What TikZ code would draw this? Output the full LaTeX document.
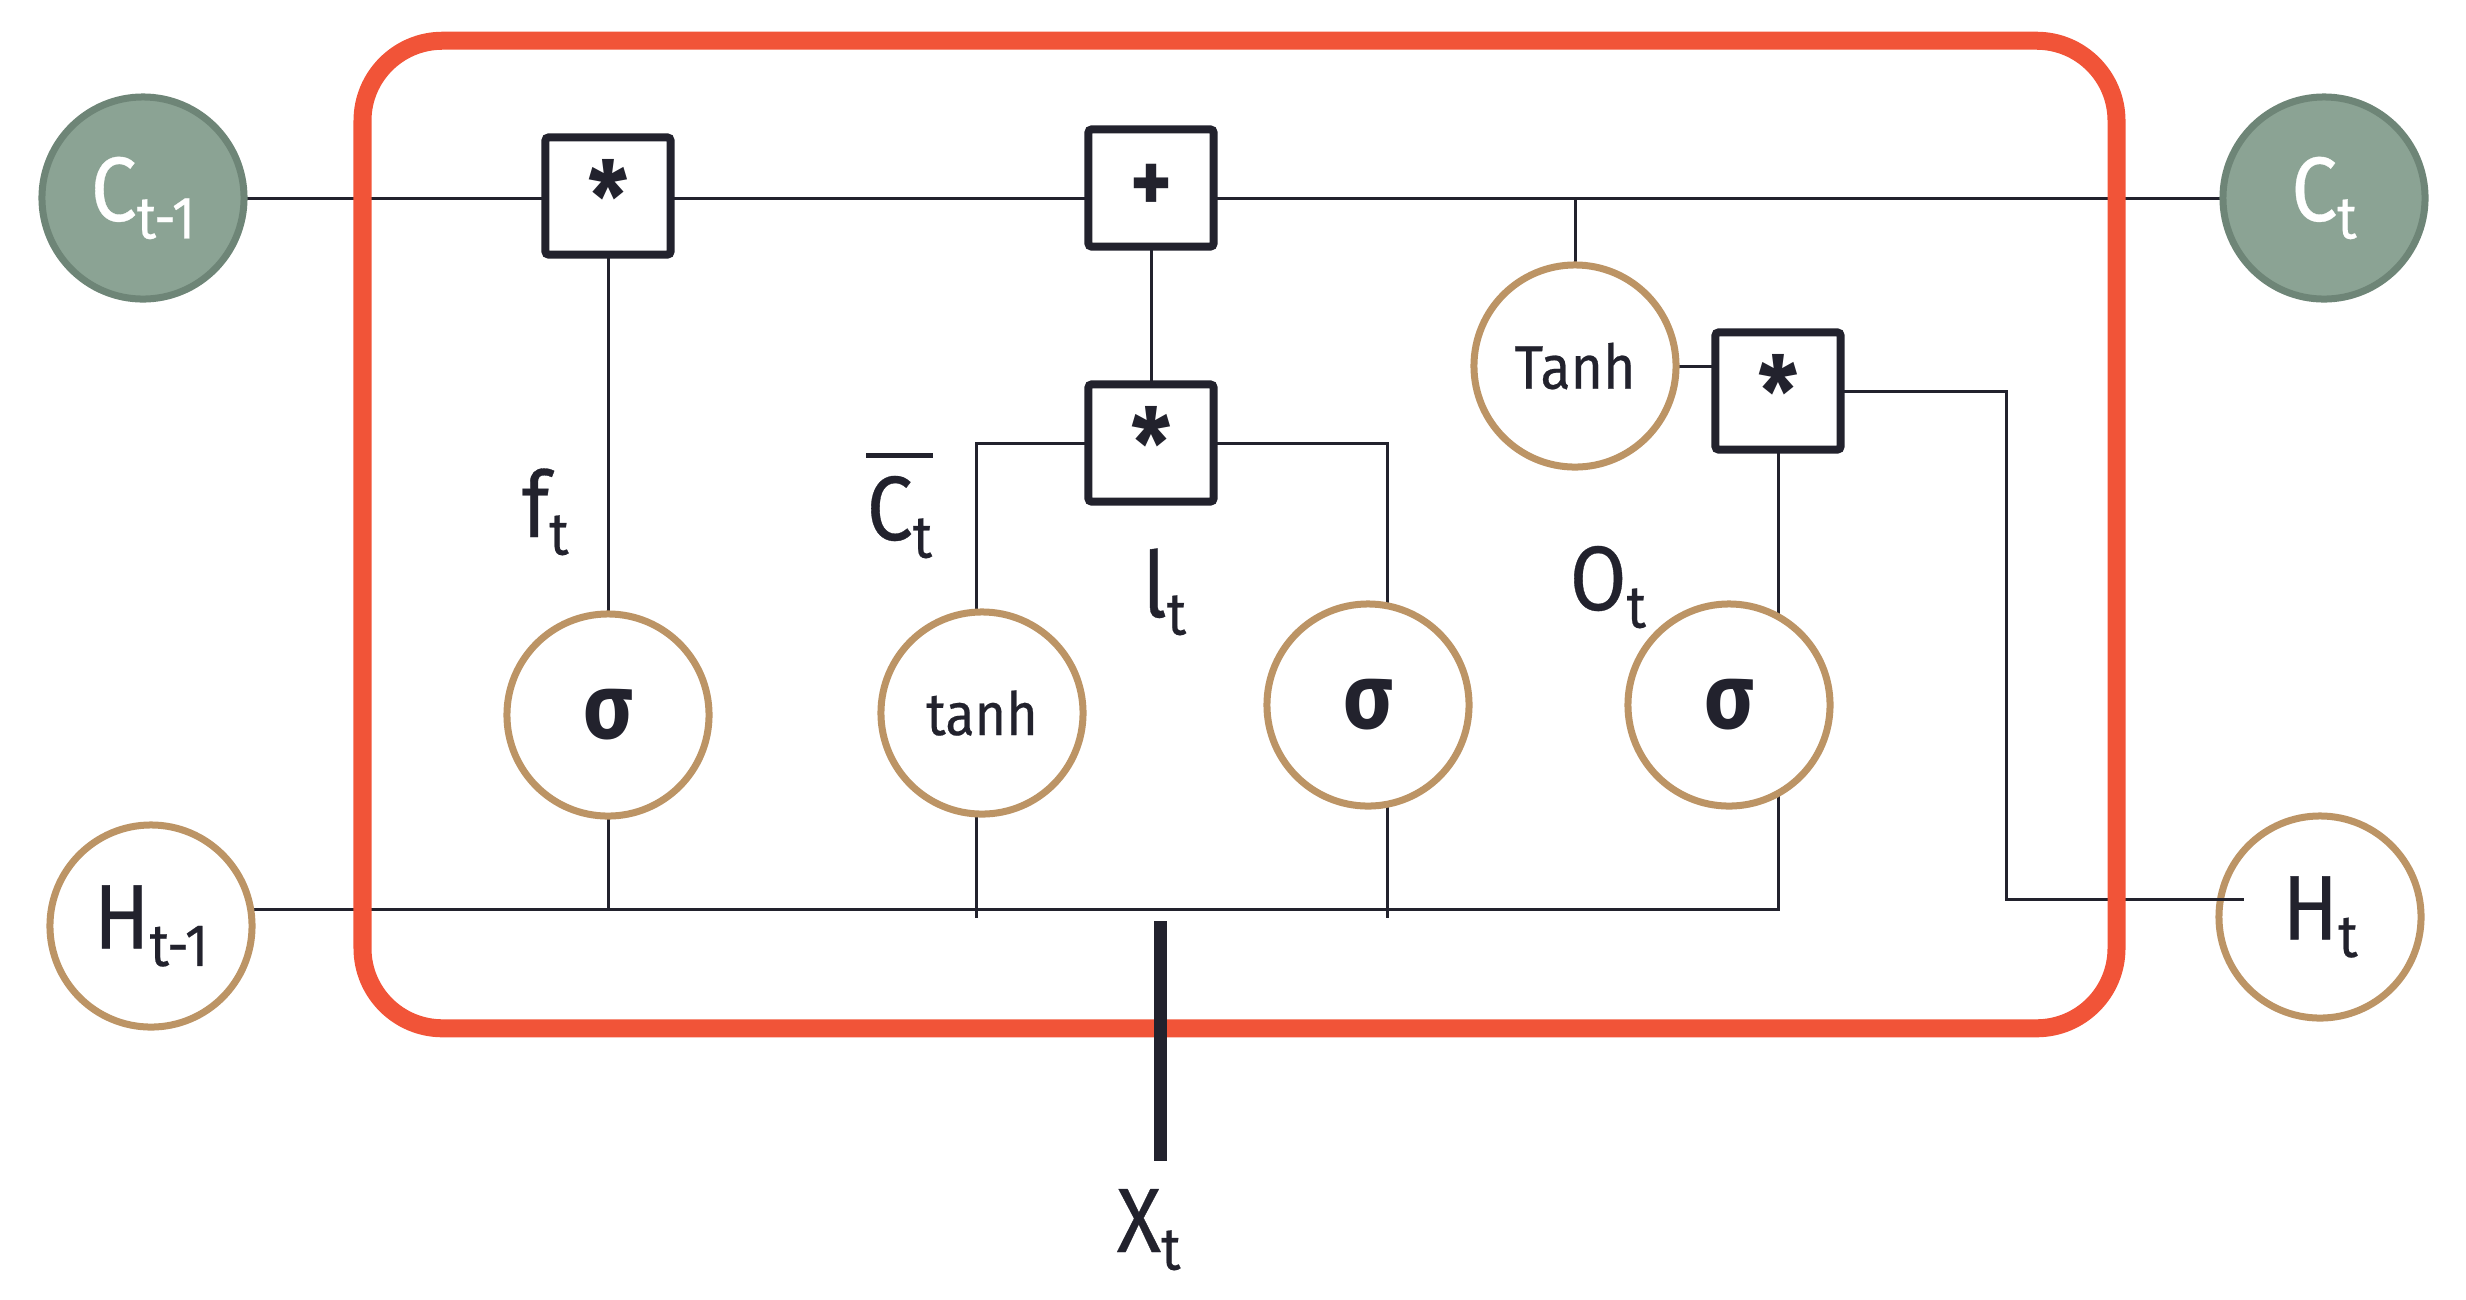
\documentclass[tikz,border=0pt]{standalone}
\usepackage{fontspec}
\setmainfont{Fira Sans}[FakeStretch=0.9, UprightFeatures={FakeBold=0.35}]
\usetikzlibrary{calc}
\pgfdeclarelayer{bg}
\pgfsetlayers{bg,main}
\definecolor{cellred}{HTML}{F15438}
\definecolor{tanline}{HTML}{BC9465}
\definecolor{sagefill}{HTML}{8BA394}
\definecolor{sagedraw}{HTML}{6E8577}
\definecolor{ink}{HTML}{22222D}
\newcommand\bigtxt{\fontsize{26}{30}\selectfont}
\newcommand\subtxt{\fontsize{17}{20}\selectfont}
\newcommand\lbl[2]{{\bigtxt #1}\raisebox{-5pt}{\subtxt #2}}
\tikzset{
  gate/.style={circle, draw=tanline, line width=0.07cm, fill=white, minimum size=2.02cm, inner sep=0pt, text=ink},
  state/.style={circle, draw=sagedraw, line width=0.07cm, fill=sagefill, minimum size=2.02cm, inner sep=0pt, text=white},
  opbox/.style={rectangle, draw=ink, line width=0.08cm, fill=white, minimum width=1.25cm, minimum height=1.17cm, inner sep=0pt, rounded corners=0.03cm, text=ink, font=\fontsize{28}{30}\selectfont\bfseries},
  wire/.style={draw=ink, line width=0.03cm},
  lab/.style={inner sep=0pt, anchor=base west, text=ink},
  sig/.style={font=\fontsize{26}{30}\selectfont\bfseries}
}
\begin{document}
\begin{tikzpicture}[x=0.01cm, y=-0.01cm]
\useasboundingbox (0,0) rectangle (2466,1299);
% LSTM cell frame
\node[draw=cellred, line width=0.18cm, rounded corners=0.8cm, minimum width=17.53cm, minimum height=9.87cm, inner sep=0pt] (cell) at (1239.5,534.5) {};
% states
\node[state] (Cprev) at (143,198) {\lbl{C}{t-1}};
\node[state] (Ct) at (2324,198) {\lbl{C}{t}};
\node[gate] (Hprev) at (151,926) {\lbl{H}{t-1}};
\node[gate] (Ht) at (2320,917) {\lbl{H}{t}};
% operators
\node[opbox] (fbox) at (608,196) {*};
\node[opbox, font=\fontsize{25}{28}\selectfont\bfseries] (plus) at (1151,188) {+};
\node[opbox] (ibox) at (1151,443) {*};
\node[opbox] (obox) at (1778,391) {*};
% activations
\node[gate, font=\fontsize{17.5}{20}\selectfont] (Tanh) at (1575,366) {Tanh};
\node[gate, sig] (sigf) at (608,715) {σ};
\node[gate, font=\fontsize{17}{20}\selectfont] (tanhc) at (982,713) {tanh};
\node[gate, sig] (sigi) at (1368,705) {σ};
\node[gate, sig] (sigo) at (1729,705) {σ};
% labels
\node[lab] (ft) at (521,537) {\lbl{f}{t}};
\node[lab] (cbar) at (866,540) {\lbl{C}{t}};
\draw[ink, line width=0.05cm] ([yshift=0.2cm]cbar.north west) -- ([yshift=0.2cm]cbar.north east);
\node[lab] (it) at (1142,617) {\lbl{l}{t}};
\node[lab] (ot) at (1569,610) {\lbl{O}{t}};
\node[lab] (xt) at (1116,1252) {\lbl{X}{t}};
% coordinates
\coordinate (hl) at (0,909);
\coordinate (cl) at (976,443);
\coordinate (cr) at (1387,443);
\coordinate (cld) at (976,918);
\coordinate (crd) at (1387,918);
\coordinate (tj) at (1575,198);
\coordinate (ho1) at (2006,391);
\coordinate (ho2) at (2006,899);
\coordinate (hend) at (2244,899);
\coordinate (xtop) at (1160,921);
\coordinate (xbot) at (1160,1161);
\begin{pgfonlayer}{bg}
\draw[wire] (Cprev.center) -- (Ct.center);
\draw[wire] (fbox.center) -- (fbox.center |- hl);
\draw[wire] (plus.center) -- (ibox.center);
\draw[wire] (cld) -- (cl) -- (cr) -- (crd);
\draw[wire] (tj) -- (Tanh.center);
\draw[wire] (Tanh.center) -- (Tanh.center -| obox.center);
\draw[wire] (obox.center) -- (ho1) -- (ho2) -- (ho2 -| Ht.center);
\draw[wire] (Hprev.center |- hl) -- (obox.center |- hl) -- (obox.center);
\end{pgfonlayer}
\draw[wire] (ho2 -| Ht.west) -- (hend);
\draw[ink, line width=0.13cm] (xtop) -- (xbot);
\end{tikzpicture}
\end{document}
